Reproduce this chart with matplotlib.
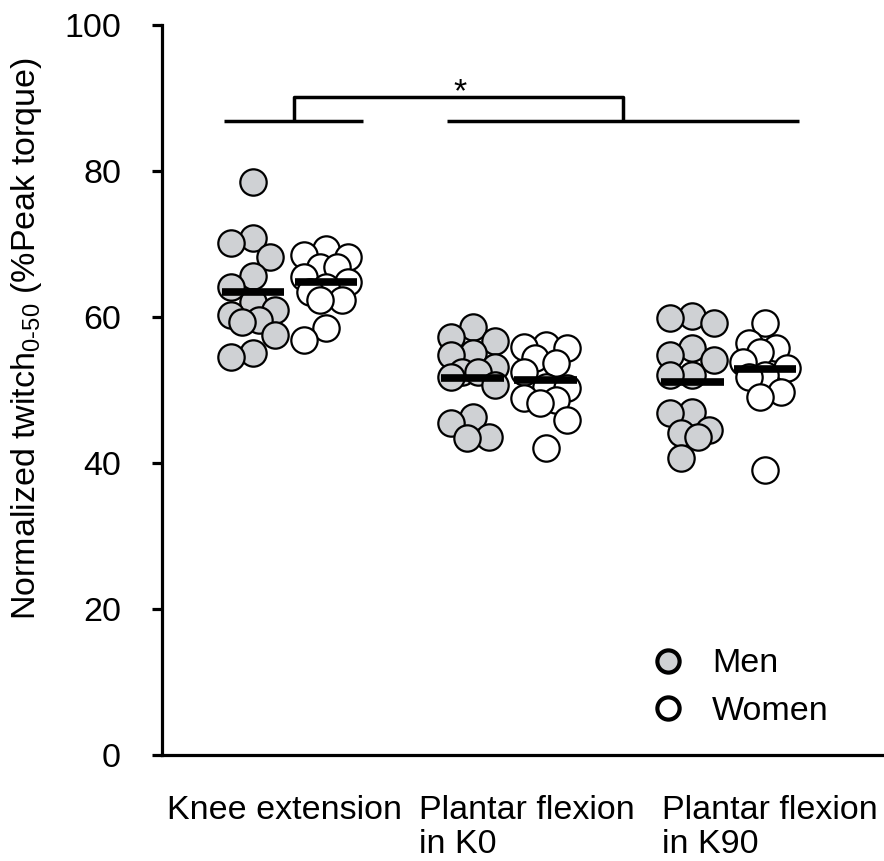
import numpy as np
import matplotlib
matplotlib.use('Agg')
import matplotlib.pyplot as plt
from matplotlib.lines import Line2D

plt.rcParams['font.family'] = ['Liberation Sans', 'DejaVu Sans']
plt.rcParams['mathtext.fontset'] = 'custom'
plt.rcParams['mathtext.rm'] = 'Liberation Sans'
plt.rcParams['mathtext.default'] = 'regular'

# values (% peak torque)
conditions = ['Knee extension', 'Plantar flexion\nin K0', 'Plantar flexion\nin K90']
ke_men = [78.5, 70.8, 70.1, 68.2, 65.6, 64.1, 62.1, 61.0, 60.3, 59.6, 59.3, 57.5, 55.1, 54.5]
ke_women = [69.3, 68.5, 68.2, 66.8, 66.8, 65.5, 64.8, 64.1, 63.4, 62.3, 62.3, 58.5, 56.8]
pf0_men = [58.6, 57.3, 56.7, 55.1, 54.8, 53.2, 52.5, 52.5, 51.8, 50.7, 46.3, 45.5, 43.6, 43.4]
pf0_women = [56.2, 55.9, 55.7, 54.4, 53.7, 52.5, 50.4, 50.3, 48.9, 48.6, 48.2, 45.9, 42.1]
pf90_men = [60.1, 59.9, 59.2, 55.8, 54.8, 54.1, 52.1, 52.1, 47.0, 46.8, 44.5, 44.1, 43.6, 40.7]
pf90_women = [59.2, 56.4, 55.7, 55.2, 53.8, 53.0, 52.1, 51.8, 49.7, 49.0, 39.0]
men_means = [63.4, 51.6, 51.1]
women_means = [64.8, 51.4, 52.9]

men = [ke_men, pf0_men, pf90_men]
women = [ke_women, pf0_women, pf90_women]

gray = '#cfd1d4'
fs = 24.5
W, H = 884, 861
fig = plt.figure(figsize=(W / 100, H / 100), dpi=100)
ax = fig.add_axes([162 / W, 106 / H, (W - 162) / W, 730 / H])
ax.set_xlim(-0.581, 2.708)
ax.set_ylim(0, 100)

# px per data unit, used to spread overlapping dots
xscale = (W - 162) / (2.708 + 0.581)
yscale = 730 / 100.0


def swarm(vals, center, half=0.1, diam=24):
    vals = np.asarray(vals, dtype=float)
    cands = np.linspace(-half, half, 9)
    cands = cands[np.argsort(np.abs(cands), kind='stable')]
    xs = np.zeros(len(vals))
    placed = []
    for i in np.argsort(-vals, kind='stable'):
        y = vals[i]
        best, bestd = 0.0, -1.0
        for c in cands:
            if placed:
                d = min(np.hypot((c - px) * xscale, (y - py) * yscale) for px, py in placed)
            else:
                d = np.inf
            if d >= diam:
                best = c
                break
            if d > bestd:
                best, bestd = c, d
        xs[i] = center + best
        placed.append((best, y))
    return xs


off = 0.166
bar_half = 0.143
for i in range(3):
    for vals, dx, fc, m in [(men[i], -off, gray, men_means[i]), (women[i], off, 'white', women_means[i])]:
        xs = swarm(vals, i + dx)
        ax.scatter(xs, vals, s=360, facecolor=fc, edgecolor='black', linewidth=1.6, zorder=2)
        ax.plot([i + dx - bar_half, i + dx + bar_half], [m, m], color='black', lw=5.5,
                solid_capstyle='butt', zorder=3)

# significance bracket
low, top = 86.8, 90.1
kw = dict(color='black', lw=2.5, solid_capstyle='butt', zorder=3)
ax.plot([-0.298, 0.335], [low, low], **kw)
ax.plot([0.718, 2.321], [low, low], **kw)
ax.plot([0.02, 0.02, 1.519, 1.519], [low, top, top, low], **kw)
ax.text(0.777, 89.6, '*', ha='center', va='baseline', fontsize=fs)

for s in ['top', 'right']:
    ax.spines[s].set_visible(False)
for s in ['left', 'bottom']:
    ax.spines[s].set_linewidth(2.3)

ax.set_yticks([0, 20, 40, 60, 80, 100])
ax.tick_params(axis='y', length=7.5, width=2.3, pad=22, labelsize=fs)
ax.set_xticks([-0.025, 1.08, 2.19])
ax.set_xticklabels(conditions, multialignment='left', fontsize=fs, linespacing=1.1)
ax.tick_params(axis='x', length=0, pad=29)

ax.set_ylabel('Normalized twitch$_{\\text{0-50}}$ (%Peak torque)', fontsize=fs)
ax.yaxis.set_label_coords(-0.163, 0.571)

handles = [Line2D([], [], marker='o', ls='', mfc=gray, mec='black', ms=16, mew=3.0),
           Line2D([], [], marker='o', ls='', mfc='white', mec='black', ms=16, mew=3.0)]
ax.legend(handles, ['Men', 'Women'], loc='upper left', bbox_to_anchor=(0.677, 0.146),
          frameon=False, fontsize=fs, handletextpad=0.8, labelspacing=0.49,
          handlelength=1.0, borderpad=0, borderaxespad=0)

fig.savefig('out.png', dpi=100)
